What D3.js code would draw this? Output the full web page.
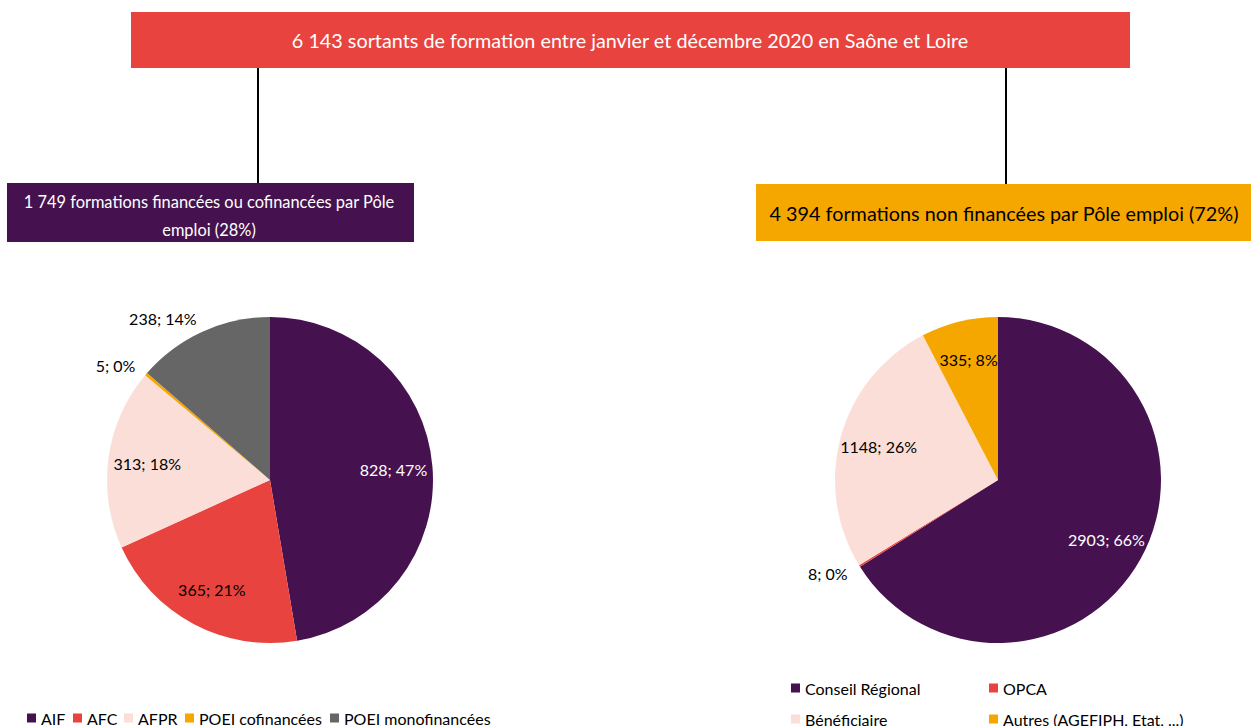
<!DOCTYPE html>
<html>
<head>
<meta charset="utf-8">
<script src="https://cdn.jsdelivr.net/npm/d3@7"></script>
<style>
	body { margin: 0; background: #fff; }
	svg { display: block; font-family: Lato, "Noto Sans", sans-serif; }
</style>
</head>
<body>
<svg id="chart" width="1251" height="726"></svg>
<script>
let width = 1251;
let height = 726;

// left pie : funded by Pôle emploi
let leftCategories = ["AIF", "AFC", "AFPR", "POEI cofinancées", "POEI monofinancées"];
let leftValues = [828, 365, 313, 5, 238];
let leftPercents = ["47%", "21%", "18%", "0%", "14%"];
let leftColors = ["#45124f", "#e8433e", "#fbded8", "#f5a700", "#666666"];

// right pie : not funded by Pôle emploi
let rightCategories = ["Conseil Régional", "OPCA", "Bénéficiaire", "Autres (AGEFIPH, Etat, ...)"];
let rightValues = [2903, 8, 1148, 335];
let rightPercents = ["66%", "0%", "26%", "8%"];
let rightColors = ["#45124f", "#e8433e", "#fbded8", "#f5a700"];

let titleText = "6 143 sortants de formation entre janvier et décembre 2020 en Saône et Loire";
let leftHeader = ["1 749 formations financées ou cofinancées par Pôle", "emploi (28%)"];
let rightHeader = ["4 394 formations non financées par Pôle emploi (72%)"];

let svg = d3.select("#chart");
let radius = 163;

// connector lines
svg.append("line")
	.attr("x1", 258).attr("x2", 258)
	.attr("y1", 68).attr("y2", 184)
	.attr("stroke", "#000").attr("stroke-width", 2);
svg.append("line")
	.attr("x1", 1006).attr("x2", 1006)
	.attr("y1", 68).attr("y2", 184)
	.attr("stroke", "#000").attr("stroke-width", 2);

// Title box
svg.append("rect")
	.attr("x", 131).attr("y", 12)
	.attr("width", 999).attr("height", 56)
	.attr("fill", "#e8433e");
svg.append("text")
	.attr("x", 630).attr("y", 40)
	.attr("dominant-baseline", "central")
	.style("text-anchor", "middle")
	.style("font-size", "19.8px")
	.attr("fill", "#fff")
	.text(titleText);

// header boxes
svg.append("rect")
	.attr("x", 7).attr("y", 183)
	.attr("width", 407).attr("height", 59)
	.attr("fill", "#45124f");
svg.append("g")
	.selectAll("text")
	.data(leftHeader)
	.enter().append("text")
	.attr("x", 209)
	.attr("y", function(d, i) { return 201 + i*28; })
	.attr("dominant-baseline", "central")
	.style("text-anchor", "middle")
	.style("font-size", "16.4px")
	.attr("fill", "#fff")
	.text(function(d) { return d; });

svg.append("rect")
	.attr("x", 756).attr("y", 184)
	.attr("width", 495).attr("height", 57)
	.attr("fill", "#f5a700");
svg.append("g")
	.selectAll("text")
	.data(rightHeader)
	.enter().append("text")
	.attr("x", 1004)
	.attr("y", 213)
	.attr("dominant-baseline", "central")
	.style("text-anchor", "middle")
	.style("font-size", "19.8px")
	.attr("fill", "#000")
	.text(function(d) { return d; });

function drawPie(cx, cy, values, percents, colors, outside, darkText) {
	let pie = d3.pie().sort(null).value(function(d) { return d; });
	let arcs = pie(values);
	let arc = d3.arc().innerRadius(0).outerRadius(radius);
	let labelArc = d3.arc().innerRadius(radius*0.76).outerRadius(radius*0.76);
	let outArc = d3.arc().innerRadius(radius + 14).outerRadius(radius + 14);

	let g = svg.append("g").attr("transform", "translate(" + cx + "," + cy + ")");

	g.selectAll("path")
		.data(arcs)
		.enter().append("path")
		.attr("d", arc)
		.attr("fill", function(d, i) { return colors[i]; });

	g.selectAll("text")
		.data(arcs)
		.enter().append("text")
		.attr("transform", function(d, i) {
			let c = outside[i] ? outArc.centroid(d) : labelArc.centroid(d);
			return "translate(" + c[0] + "," + c[1] + ")";
		})
		.attr("dominant-baseline", "central")
		.style("text-anchor", function(d, i) { return outside[i] ? "end" : "middle"; })
		.style("font-size", "16px")
		.attr("fill", function(d, i) { return (outside[i] || darkText[i]) ? "#000" : "#fff"; })
		.text(function(d, i) { return d.data + "; " + percents[i]; });
}

drawPie(270, 480, leftValues, leftPercents, leftColors,
	[false, false, false, true, true], [false, true, true, true, true]);
drawPie(998, 480, rightValues, rightPercents, rightColors,
	[false, true, false, false], [false, true, true, true]);

// legends
function drawLegend(categories, colors, xs, ys) {
	let g = svg.append("g");
	g.selectAll("rect")
		.data(categories)
		.enter().append("rect")
		.attr("x", function(d, i) { return xs[i]; })
		.attr("y", function(d, i) { return ys[i] - 4.5; })
		.attr("width", 9).attr("height", 9)
		.attr("fill", function(d, i) { return colors[i]; });
	g.selectAll("text")
		.data(categories)
		.enter().append("text")
		.attr("x", function(d, i) { return xs[i] + 14; })
		.attr("y", function(d, i) { return ys[i]; })
		.attr("dominant-baseline", "central")
		.style("font-size", "16px")
		.attr("fill", "#000")
		.text(function(d) { return d; });
}

drawLegend(leftCategories, leftColors, [27, 73, 124, 185, 330], [718, 718, 718, 718, 718]);
drawLegend(rightCategories, rightColors, [791, 989, 791, 989], [688, 688, 719, 719]);
</script>
</body>
</html>
